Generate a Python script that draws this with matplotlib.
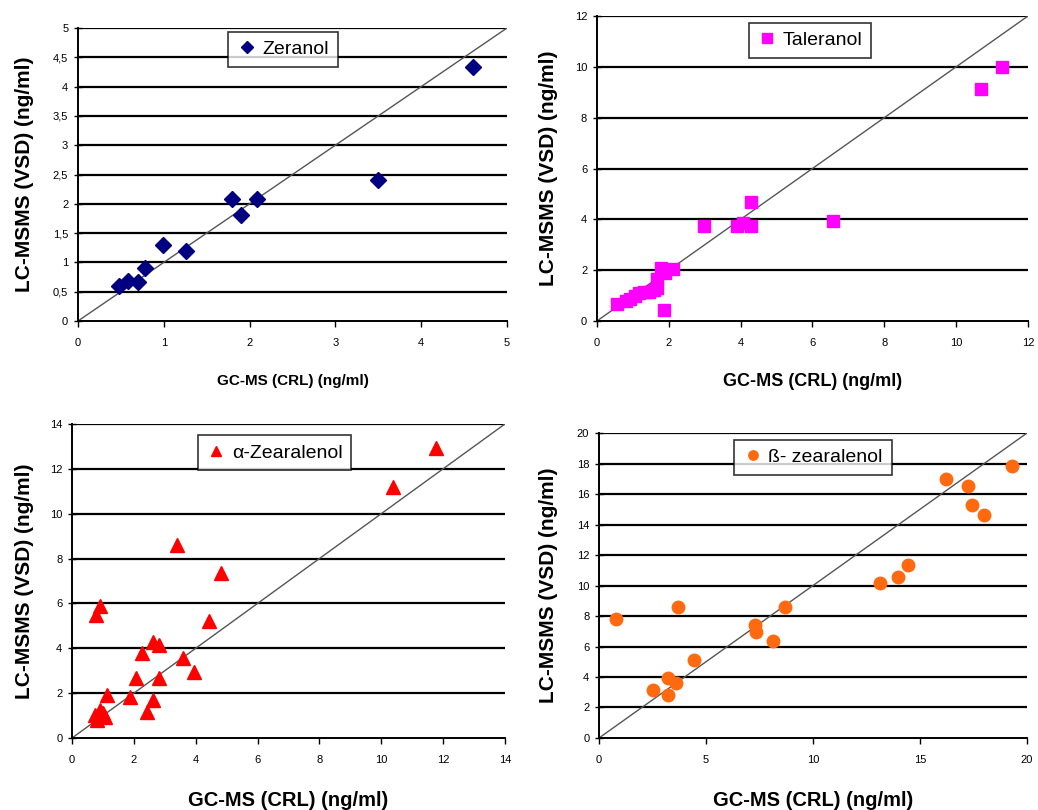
import numpy as np
import matplotlib
matplotlib.use('Agg')
import matplotlib.pyplot as plt
from matplotlib.ticker import FuncFormatter

# Zeranol
zer_gc = [0.48, 0.58, 0.70, 0.78, 0.99, 1.26, 1.80, 1.90, 2.09, 3.50, 4.60]
zer_lc = [0.60, 0.69, 0.67, 0.91, 1.30, 1.20, 2.08, 1.81, 2.08, 2.40, 4.34]
# Taleranol
tal_gc = [0.56, 0.80, 0.93, 1.05, 1.16, 1.30, 1.44, 1.58, 1.67, 1.67, 1.78, 1.90, 2.13, 1.87,
          2.98, 3.89, 4.06, 4.28, 4.29, 6.58, 10.70, 11.28]
tal_lc = [0.66, 0.80, 0.85, 1.00, 1.09, 1.15, 1.15, 1.22, 1.29, 1.64, 2.08, 1.90, 2.03, 0.43,
          3.74, 3.74, 3.87, 4.70, 3.74, 3.93, 9.13, 10.00]
# alpha-Zearalenol
aze_gc = [0.75, 0.81, 0.92, 1.00, 1.08, 1.13, 1.88, 2.42, 2.62, 2.08, 2.80, 3.95, 3.59, 2.26,
          2.62, 2.80, 4.42, 0.79, 0.92, 4.81, 3.39, 10.39, 11.77]
aze_lc = [1.02, 0.80, 1.25, 1.10, 0.95, 1.92, 1.84, 1.17, 1.69, 2.66, 2.66, 2.95, 3.55, 3.77,
          4.30, 4.16, 5.20, 5.49, 5.89, 7.35, 8.61, 11.21, 12.92]
# beta-zearalenol
bze_gc = [0.79, 3.70, 2.51, 3.24, 3.24, 3.60, 4.45, 7.28, 7.33, 8.11, 8.70, 13.12, 13.95,
          14.44, 16.20, 17.25, 17.43, 18.00, 19.32]
bze_lc = [7.80, 8.57, 3.13, 3.93, 2.84, 3.61, 5.14, 7.39, 6.95, 6.34, 8.57, 10.16, 10.54,
          11.32, 17.00, 16.50, 15.30, 14.60, 17.81]

zer_yticks = [0, 0.5, 1, 1.5, 2, 2.5, 3, 3.5, 4, 4.5, 5]
zer_xticks = [0, 1, 2, 3, 4, 5]
tal_ticks = [0, 2, 4, 6, 8, 10, 12]
aze_ticks = [0, 2, 4, 6, 8, 10, 12, 14]
bze_yticks = [0, 2, 4, 6, 8, 10, 12, 14, 16, 18, 20]
bze_xticks = [0, 5, 10, 15, 20]

plt.rcParams['font.family'] = ['Liberation Sans', 'DejaVu Sans']

fig = plt.figure(figsize=(10.38, 8.10), dpi=100)

# (name, x, y, marker, color, msize, xticks, yticks, axes rect, legend anchor, xlabel size, xlabel y)
PANELS = [
    ('Zeranol', zer_gc, zer_lc, 'D', '#000080', 8, zer_xticks, zer_yticks,
     [0.0751, 0.6037, 0.4133, 0.3617], (0.478, 1.02), 11, 0.5296, 0.024),
    ('Taleranol', tal_gc, tal_lc, 's', '#ff00ff', 9, tal_ticks, tal_ticks,
     [0.5751, 0.6037, 0.4152, 0.3765], (0.494, 1.01), 13, 0.5296, 0.528),
    ('\u03b1-Zearalenol', aze_gc, aze_lc, '^', '#ff0000', 10, aze_ticks, aze_ticks,
     [0.0694, 0.0889, 0.4171, 0.3877], (0.468, 0.995), 14.5, 0.012, 0.024),
    ('\u00df- zearalenol', bze_gc, bze_lc, 'o', '#ff6a10', 9, bze_xticks, bze_yticks,
     [0.5771, 0.0889, 0.4123, 0.3765], (0.50, 1.01), 14.5, 0.012, 0.528),
]

for name, xs, ys, mk, col, ms, xt, yt, rect, anc, xls, xly, ylx in PANELS:
    ax = fig.add_axes(rect)
    lim = xt[-1]
    ax.plot([0, lim], [0, lim], color='#555555', lw=1.0, zorder=2)
    ax.plot(xs, ys, ls='none', marker=mk, color=col, markersize=ms, label=name, zorder=3)
    ax.set_xlim(0, lim)
    ax.set_ylim(0, yt[-1])
    ax.set_xticks(xt)
    ax.set_yticks(yt)
    fmt = FuncFormatter(lambda v, p: ('%g' % v).replace('.', ','))
    ax.xaxis.set_major_formatter(fmt)
    ax.yaxis.set_major_formatter(fmt)
    for v in yt[1:]:
        ax.axhline(v, color='black', lw=1.6, zorder=1)
    for sp in ['top', 'right']:
        ax.spines[sp].set_visible(False)
    ax.spines['left'].set_linewidth(1.4)
    ax.spines['bottom'].set_linewidth(1.4)
    ax.tick_params(axis='y', direction='inout', length=6, width=1, labelsize=8, pad=4)
    ax.tick_params(axis='x', direction='out', length=4, width=1, labelsize=8, pad=8)
    leg = ax.legend(loc='upper center', bbox_to_anchor=anc, fontsize=14, frameon=True,
                    fancybox=False, shadow=False, handletextpad=0.3, borderpad=0.45,
                    handlelength=1.0, markerscale=0.75)
    leg.get_frame().set_edgecolor('black')
    leg.get_frame().set_linewidth(1.2)
    cx = rect[0] + rect[2] / 2
    fig.text(cx, xly, 'GC-MS (CRL) (ng/ml)', ha='center', va='center',
             fontsize=xls, fontweight='bold')
    fig.text(ylx, rect[1] + rect[3] / 2, 'LC-MSMS (VSD) (ng/ml)', ha='center', va='center',
             rotation=90, fontsize=15, fontweight='bold')

fig.savefig('out.png', dpi=100)
